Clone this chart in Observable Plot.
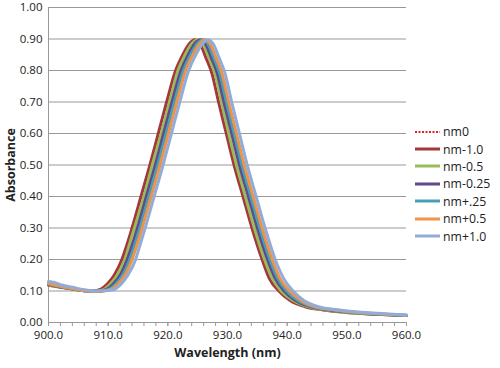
<!DOCTYPE html>
<html><head><meta charset="utf-8">
<script src="https://cdn.jsdelivr.net/npm/d3@7"></script>
<script src="https://cdn.jsdelivr.net/npm/@observablehq/plot@0.6"></script>
<style>
body{margin:0;background:#fff;font-family:"Open Sans",sans-serif;}
#wrap{position:relative;width:500px;height:368px;}
#legend{position:absolute;left:415px;top:123px;font-size:12.3px;color:#222;}
.item{display:flex;align-items:center;height:17.4px;}
.item svg{margin-right:3px;}
svg [aria-label="x-axis label"], svg [aria-label="y-axis label"]{font-weight:bold;font-size:12.5px;}
</style></head><body><div id="wrap"><div id="legend"></div></div>
<script>
const seriesNames = ["nm0","nm-1.0","nm-0.5","nm-0.25","nm+.25","nm+0.5","nm+1.0"];
const seriesColors = ["#e3202a","#a3373b","#9bbb59","#604a8b","#45a0b5","#f0924a","#92acd8"];
const xMajorTicks = [900,910,920,930,940,950,960];
const xMinorTicks = [900,902,904,906,908,910,912,914,916,918,920,922,924,926,928,930,932,934,936,938,940,942,944,946,948,950,952,954,956,958,960];
const yTicks = [0,0.1,0.2,0.3,0.4,0.5,0.6,0.7,0.8,0.9,1.0];

// [wavelength, absorbance]
const nm0 = [[900,0.122],[902,0.114],[904,0.107],[906,0.101],[908,0.099],[909.8,0.104],[911.2,0.125],[912.2,0.15],[913.4,0.20],[914.3,0.25],[915.1,0.30],[916.6,0.40],[918.1,0.50],[919.5,0.60],[920.9,0.70],[922.4,0.80],[923.6,0.85],[924.7,0.885],[925.6,0.898],[926.5,0.885],[927.5,0.84],[928.5,0.79],[929.6,0.70],[930.9,0.60],[932.2,0.50],[933.7,0.40],[935.2,0.30],[936.9,0.20],[938.2,0.14],[939.7,0.10],[941.6,0.07],[944.1,0.05],[946.8,0.041],[950,0.033],[955,0.026],[960,0.022]];
const nmMinus10 = [[900,0.118],[902,0.112],[904,0.106],[906,0.101],[907.5,0.100],[908.7,0.105],[910,0.125],[911,0.15],[912.3,0.20],[913.2,0.25],[914.0,0.30],[915.5,0.40],[917.0,0.50],[918.4,0.60],[919.8,0.70],[921.3,0.80],[922.5,0.85],[923.6,0.885],[924.5,0.898],[925.4,0.885],[926.4,0.84],[927.4,0.79],[928.5,0.70],[929.8,0.60],[931.1,0.50],[932.6,0.40],[934.1,0.30],[935.8,0.20],[937,0.14],[938.6,0.10],[940.5,0.07],[943,0.05],[946,0.04],[950,0.032],[955,0.026],[960,0.022]];
const nmMinus05 = [[900,0.12],[902,0.113],[904,0.106],[906,0.101],[908,0.099],[909.2,0.104],[910.5,0.125],[911.5,0.15],[912.8,0.20],[913.6,0.25],[914.4,0.30],[916.0,0.40],[917.4,0.50],[918.9,0.60],[920.3,0.70],[921.7,0.80],[922.9,0.85],[924.0,0.885],[925.0,0.898],[925.9,0.885],[926.9,0.84],[927.9,0.79],[929.0,0.70],[930.2,0.60],[931.5,0.50],[933.0,0.40],[934.5,0.30],[936.2,0.20],[937.5,0.14],[939.0,0.10],[941,0.07],[943.5,0.05],[946,0.041],[950,0.032],[955,0.026],[960,0.022]];
const nmMinus025 = [[900,0.121],[902,0.113],[904,0.107],[906,0.101],[908,0.099],[909.6,0.104],[911,0.125],[912,0.15],[913.2,0.20],[914.1,0.25],[914.9,0.30],[916.4,0.40],[917.9,0.50],[919.3,0.60],[920.7,0.70],[922.2,0.80],[923.4,0.85],[924.5,0.885],[925.4,0.898],[926.3,0.885],[927.3,0.84],[928.3,0.79],[929.4,0.70],[930.7,0.60],[932.0,0.50],[933.5,0.40],[935.0,0.30],[936.7,0.20],[938,0.14],[939.5,0.10],[941.4,0.07],[944,0.05],[946.5,0.041],[950,0.033],[955,0.026],[960,0.022]];
const nmPlus025 = [[900,0.123],[902,0.114],[904,0.107],[906,0.101],[908,0.099],[910,0.104],[911.4,0.125],[912.4,0.15],[913.6,0.20],[914.5,0.25],[915.3,0.30],[916.8,0.40],[918.3,0.50],[919.7,0.60],[921.1,0.70],[922.6,0.80],[923.8,0.85],[924.9,0.885],[925.8,0.898],[926.7,0.885],[927.7,0.84],[928.7,0.79],[929.8,0.70],[931.1,0.60],[932.4,0.50],[933.9,0.40],[935.4,0.30],[937.1,0.20],[938.4,0.14],[939.9,0.10],[941.8,0.07],[944.3,0.05],[947,0.041],[950,0.034],[955,0.027],[960,0.023]];
const nmPlus05 = [[900,0.124],[902,0.115],[904,0.108],[906,0.101],[908,0.099],[910.4,0.104],[911.8,0.125],[912.8,0.15],[914.0,0.20],[914.9,0.25],[915.7,0.30],[917.2,0.40],[918.7,0.50],[920.1,0.60],[921.5,0.70],[923.0,0.80],[924.2,0.85],[925.3,0.885],[926.2,0.898],[927.1,0.885],[928.1,0.84],[929.1,0.79],[930.2,0.70],[931.5,0.60],[932.8,0.50],[934.3,0.40],[935.8,0.30],[937.5,0.20],[938.8,0.14],[940.4,0.10],[942.3,0.07],[944.7,0.05],[947.5,0.041],[950,0.035],[955,0.028],[960,0.023]];
const nmPlus10 = [[900,0.13],[901,0.127],[902,0.12],[904,0.112],[906,0.104],[908,0.100],[910.8,0.104],[912.3,0.125],[913.3,0.15],[914.6,0.20],[915.4,0.25],[916.2,0.30],[917.7,0.40],[919.2,0.50],[920.6,0.60],[922.0,0.70],[923.5,0.80],[924.7,0.85],[925.8,0.885],[926.7,0.898],[927.6,0.885],[928.6,0.84],[929.6,0.79],[930.7,0.70],[932.0,0.60],[933.3,0.50],[934.8,0.40],[936.3,0.30],[938.0,0.20],[939.4,0.14],[941.0,0.10],[942.8,0.07],[945.2,0.05],[948,0.041],[951,0.035],[955,0.029],[960,0.024]];

const seriesData = [nm0, nmMinus10, nmMinus05, nmMinus025, nmPlus025, nmPlus05, nmPlus10];
const rows = seriesNames.flatMap((name, i) => seriesData[i].map(([w, a]) => ({series: name, w, a})));

const plot = Plot.plot({
  width: 500, height: 368,
  marginLeft: 48, marginRight: 94, marginTop: 7, marginBottom: 46,
  style: {fontFamily: '"Open Sans", sans-serif', fontSize: "11.5px", color: "#222", background: "#fff"},
  x: {domain: [900, 960]},
  y: {domain: [0, 1]},
  color: {domain: seriesNames, range: seriesColors},
  marks: [
    Plot.gridY(yTicks, {stroke: "#999", strokeOpacity: 1, strokeWidth: 1}),
    Plot.ruleX([900], {stroke: "#999"}),
    Plot.axisX({ticks: xMinorTicks, tickSize: 4, tickFormat: () => "", label: null, stroke: "#999"}),
    Plot.axisX({ticks: xMajorTicks, tickSize: 4, tickPadding: 4, tickFormat: d => d.toFixed(1), stroke: "#999",
      label: "Wavelength (nm)", labelAnchor: "center", labelOffset: 34, labelArrow: "none"}),
    Plot.axisY({ticks: yTicks, tickSize: 0, tickPadding: 6, tickFormat: d => d.toFixed(2),
      label: "Absorbance", labelAnchor: "center", labelOffset: 42, labelArrow: "none"}),
    Plot.line(rows.filter(d => d.series === "nm0"), {x: "w", y: "a", stroke: "series", strokeWidth: 2, strokeDasharray: "1.5,1.5", curve: "monotone-x"}),
    Plot.line(rows.filter(d => d.series !== "nm0"), {x: "w", y: "a", z: "series", stroke: "series", strokeWidth: 3, curve: "monotone-x"})
  ]
});
document.getElementById("wrap").prepend(plot);

const legend = document.getElementById("legend");
seriesNames.forEach((name, i) => {
  const item = document.createElement("div");
  item.className = "item";
  const dash = name === "nm0" ? ' stroke-dasharray="2,1.5"' : '';
  const sw = name === "nm0" ? 2 : 3;
  item.innerHTML = `<svg width="25" height="6"><line x1="0" x2="25" y1="3" y2="3" stroke="${seriesColors[i]}" stroke-width="${sw}"${dash}/></svg><span>${name}</span>`;
  legend.appendChild(item);
});
</script>
</body></html>
